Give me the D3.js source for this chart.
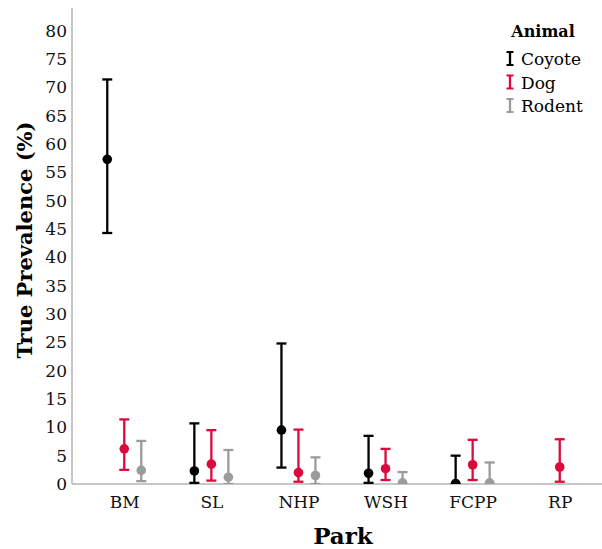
<!DOCTYPE html>
<html>
<head>
<meta charset="utf-8">
<script src="https://cdn.jsdelivr.net/npm/d3@7"></script>
<style>
  body { margin: 0; background: #fff; }
  text { font-family: "DejaVu Serif", "Liberation Serif", serif; }
</style>
</head>
<body>
<script>
// Data
let parks = ["BM", "SL", "NHP", "WSH", "FCPP", "RP"];
let animals = ["Coyote", "Dog", "Rodent"];
let colors = ["#000000", "#dc0a3c", "#9b9b9b"];
let yTicks = [0, 5, 10, 15, 20, 25, 30, 35, 40, 45, 50, 55, 60, 65, 70, 75, 80];

// [park, estimate, lower, upper]
let coyote = [
  ["BM", 57.3, 44.3, 71.4],
  ["SL", 2.3, 0.2, 10.7],
  ["NHP", 9.5, 2.9, 24.8],
  ["WSH", 1.9, 0.2, 8.5],
  ["FCPP", 0.1, 0, 5.0]
];
let dog = [
  ["BM", 6.2, 2.5, 11.4],
  ["SL", 3.5, 0.6, 9.5],
  ["NHP", 2.0, 0.4, 9.6],
  ["WSH", 2.7, 0.7, 6.2],
  ["FCPP", 3.4, 0.7, 7.8],
  ["RP", 3.0, 0.4, 7.9]
];
let rodent = [
  ["BM", 2.4, 0.5, 7.6],
  ["SL", 1.2, 0, 6.0],
  ["NHP", 1.5, 0, 4.7],
  ["WSH", 0.2, 0, 2.1],
  ["FCPP", 0.2, 0, 3.8]
];

let series = [coyote, dog, rodent];

let width = 602, height = 549;
let svg = d3.select("body")
  .append("svg")
  .attr("width", width)
  .attr("height", height);

let plotLeft = 72, plotRight = 612, plotTop = 8, plotBottom = 484;

let x = d3.scalePoint().domain(parks).range([plotLeft, plotRight]).padding(0.6);
let xOff = d3.scalePoint().domain(animals).range([-17, 17]);
let y = d3.scaleLinear().domain([0, 80]).range([plotBottom, plotBottom - 80 * 5.666]);

// clip marks at the x axis
svg.append("clipPath")
  .attr("id", "plot")
  .append("rect")
  .attr("x", plotLeft)
  .attr("y", 0)
  .attr("width", width - plotLeft)
  .attr("height", plotBottom);

// y axis (no tick marks)
let yAxis = svg.append("g")
  .attr("transform", `translate(${plotLeft},0)`)
  .call(d3.axisLeft(y).tickValues(yTicks).tickSize(0).tickPadding(5));
yAxis.select(".domain").remove();
yAxis.selectAll("text")
  .style("font-size", "17px")
  .style("fill", "#111");

// x axis
let xAxis = svg.append("g")
  .attr("transform", `translate(0,${plotBottom})`)
  .call(d3.axisBottom(x).tickSize(0).tickPadding(12));
xAxis.select(".domain").remove();
xAxis.selectAll("text")
  .style("font-size", "17px")
  .style("fill", "#111");

svg.append("line")
  .attr("x1", plotLeft).attr("x2", plotLeft)
  .attr("y1", plotTop).attr("y2", plotBottom)
  .style("stroke", "#b4b4b4")
  .style("stroke-width", 1.5);
svg.append("line")
  .attr("x1", plotLeft).attr("x2", width)
  .attr("y1", plotBottom).attr("y2", plotBottom)
  .style("stroke", "#b4b4b4")
  .style("stroke-width", 1.5);

// error bars and points
let marks = svg.append("g").attr("clip-path", "url(#plot)");
series.forEach((data, i) => {
  let g = marks.append("g");
  let cx = (d) => x(d[0]) + xOff(animals[i]);
  g.selectAll(".whisker")
    .data(data)
    .join("line")
    .attr("class", "whisker")
    .attr("x1", cx).attr("x2", cx)
    .attr("y1", (d) => y(d[2])).attr("y2", (d) => y(d[3]))
    .style("stroke", colors[i])
    .style("stroke-width", 2.3);
  [2, 3].forEach((k) => {
    g.selectAll(".cap" + k)
      .data(data)
      .join("line")
      .attr("class", "cap" + k)
      .attr("x1", (d) => cx(d) - 5).attr("x2", (d) => cx(d) + 5)
      .attr("y1", (d) => y(d[k])).attr("y2", (d) => y(d[k]))
      .style("stroke", colors[i])
      .style("stroke-width", 2.3);
  });
  g.selectAll("circle")
    .data(data)
    .join("circle")
    .attr("cx", cx)
    .attr("cy", (d) => y(d[1]))
    .attr("r", 4.8)
    .style("fill", colors[i]);
});

// axis titles
svg.append("text")
  .attr("x", 343)
  .attr("y", 544)
  .attr("text-anchor", "middle")
  .style("font-size", "23px")
  .style("font-weight", "bold")
  .text("Park");

svg.append("text")
  .attr("transform", "translate(32,240) rotate(-90)")
  .attr("text-anchor", "middle")
  .style("font-size", "21px")
  .style("font-weight", "bold")
  .text("True Prevalence (%)");

// legend
let legend = svg.append("g");
legend.append("text")
  .attr("x", 543)
  .attr("y", 37)
  .attr("text-anchor", "middle")
  .style("font-size", "16px")
  .style("font-weight", "bold")
  .text("Animal");

animals.forEach((a, i) => {
  let ly = 59 + i * 23.5;
  let lx = 510;
  legend.append("line")
    .attr("x1", lx).attr("x2", lx)
    .attr("y1", ly - 7).attr("y2", ly + 6)
    .style("stroke", colors[i]).style("stroke-width", 2.3);
  [ly - 7, ly + 6].forEach((cy) => {
    legend.append("line")
      .attr("x1", lx - 3.5).attr("x2", lx + 3.5)
      .attr("y1", cy).attr("y2", cy)
      .style("stroke", colors[i]).style("stroke-width", 2);
  });
  legend.append("text")
    .attr("x", lx + 11)
    .attr("y", ly + 6)
    .style("font-size", "17px")
    .text(a);
});
</script>
</body>
</html>
